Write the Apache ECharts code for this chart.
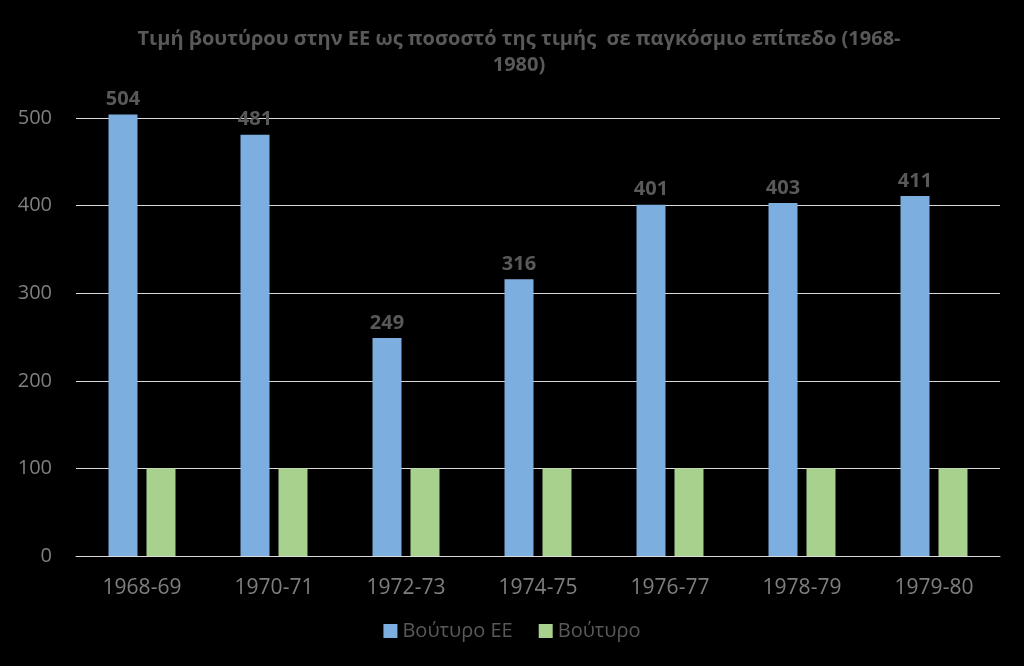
<!DOCTYPE html>
<html><head><meta charset="utf-8">
<script src="https://cdn.jsdelivr.net/npm/echarts@6/dist/echarts.min.js"></script>
<style>html,body{margin:0;padding:0;background:#000;}#c{width:1024px;height:666px;}</style>
</head><body><div id="c"></div>
<script>
const categories = ['1968-69','1970-71','1972-73','1974-75','1976-77','1978-79','1979-80'];
const butterEU = [504, 481, 249, 316, 401, 403, 411];
const butterWorld = [100, 100, 100, 100, 100, 100, 100];
const seriesNames = ['Βούτυρο ΕΕ', 'Βούτυρο'];
const titleText = 'Τιμή βουτύρου στην ΕΕ ως ποσοστό της τιμής  σε παγκόσμιο επίπεδο (1968-\n1980)';
const font = '"Open Sans", "Noto Sans", sans-serif';
const chart = echarts.init(document.getElementById('c'));
chart.setOption({
  backgroundColor: '#000',
  animation: false,
  title: {
    text: titleText, left: 514, top: 21, textAlign: 'center',
    textStyle: { color: '#595959', fontSize: 20, fontWeight: 'bold', fontFamily: font, lineHeight: 26 }
  },
  legend: {
    bottom: 20, left: 'center', itemWidth: 14, itemHeight: 14, itemGap: 26,
    icon: 'rect',
    textStyle: { color: '#595959', fontSize: 20, fontFamily: font },
    data: seriesNames
  },
  grid: { left: 76, right: 24, top: 118, bottom: 110, containLabel: false },
  xAxis: {
    type: 'category', data: categories,
    axisLine: { lineStyle: { color: '#d9d9d9' } },
    axisTick: { show: false },
    axisLabel: { color: '#7f7f7f', fontSize: 21, fontFamily: font, margin: 22 }
  },
  yAxis: {
    type: 'value', min: 0, max: 500, interval: 100,
    axisLine: { show: false }, axisTick: { show: false },
    axisLabel: { color: '#7f7f7f', fontSize: 20, fontFamily: font, margin: 24 },
    splitLine: { lineStyle: { color: '#d9d9d9', width: 1 } }
  },
  series: [
    { name: seriesNames[0], type: 'bar', data: butterEU, barWidth: 29, barGap: '31%', clip: false,
      itemStyle: { color: '#7cafe0' },
      label: { show: true, position: 'top', color: '#595959', fontSize: 20, fontWeight: 'bold', fontFamily: font, distance: 5 } },
    { name: seriesNames[1], type: 'bar', data: butterWorld, barWidth: 29, clip: false,
      itemStyle: { color: '#a9d18e' } }
  ]
});
</script></body></html>
